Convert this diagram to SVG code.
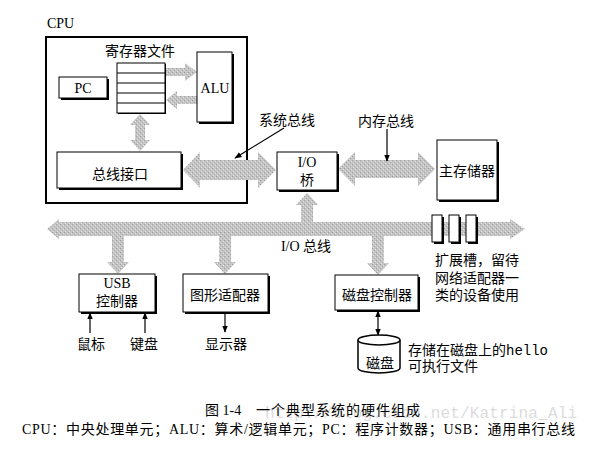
<svg xmlns="http://www.w3.org/2000/svg" width="612" height="460" viewBox="0 0 612 460">
<style>
 .t{font-family:"Liberation Serif","Noto Sans CJK SC",serif;font-size:14px;fill:#000}
 .c{text-anchor:middle}
 .box{fill:#fff;stroke:#000;stroke-width:1}
 .sh{fill:#000}
 .bus{fill:url(#dots)}
 .ln{stroke:#000;stroke-width:1.2;fill:none}
 .mono{font-family:"Liberation Mono","DejaVu Sans Mono",monospace}
</style>
<defs>
 <pattern id="dots" width="4" height="4" patternUnits="userSpaceOnUse">
  <rect width="4" height="4" fill="#c4c4c4"/>
  <rect x="0" y="0" width="1" height="1" fill="#9c9c9c"/>
  <rect x="2" y="2" width="1" height="1" fill="#aaaaaa"/>
  <rect x="3" y="1" width="1" height="1" fill="#e2e2e2"/>
  <rect x="1" y="3" width="1" height="1" fill="#dddddd"/>
 </pattern>
 <marker id="ah" viewBox="0 0 10 10" refX="9" refY="5" markerWidth="6" markerHeight="6" orient="auto-start-reverse"><path d="M0,1 L10,5 L0,9 Z" fill="#000"/></marker>
</defs>
<rect width="612" height="460" fill="#fff"/>

<g id="cpu">
 <text class="t" x="47" y="28">CPU</text>
 <rect x="46" y="37" width="201" height="166" fill="none" stroke="#000" stroke-width="2"/>
</g>

<g id="connectors">
 <!-- system bus -->
 <path class="bus" d="M183,170 L200,152 L200,160 L258,160 L258,152 L276,170 L258,188 L258,180 L200,180 L200,188 Z"/>
 <!-- memory bus -->
 <path class="bus" d="M338,169 L355,152 L355,160 L418,160 L418,152 L435,169 L418,186 L418,178 L355,178 L355,186 Z"/>
 <!-- register file <-> ALU -->
 <path class="bus" d="M165,68 L185,68 L185,63 L197,72 L185,81 L185,76 L165,76 Z"/>
 <path class="bus" d="M197,96 L177,96 L177,91 L166,100 L177,109 L177,104 L197,104 Z"/>
 <!-- register file <-> bus interface -->
 <path class="bus" d="M140,114 L150,125 L145,125 L145,140 L150,140 L140,151 L130,140 L135,140 L135,125 L130,125 Z"/>
 <!-- I/O bus -->
 <path class="bus" d="M47,229 L59,219 L59,222 L510,222 L510,219 L525,229 L510,239 L510,236 L59,236 L59,239 Z"/>
 <!-- bus to bridge -->
 <path class="bus" d="M307,193 L318,205 L313,205 L313,223 L301,223 L301,205 L296,205 Z"/>
 <!-- bus to USB, graphics, disk controller -->
 <path class="bus" d="M112,235 L124,235 L124,262 L129,262 L118,274 L107,262 L112,262 Z"/>
 <path class="bus" d="M219,235 L231,235 L231,262 L236,262 L225,274 L214,262 L219,262 Z"/>
 <path class="bus" d="M372,235 L384,235 L384,263 L389,263 L378,275 L367,263 L372,263 Z"/>
 <!-- thin arrows -->
 <line class="ln" x1="284" y1="128" x2="235" y2="158" marker-end="url(#ah)"/>
 <line class="ln" x1="387" y1="129" x2="387" y2="161" marker-end="url(#ah)"/>
 <line class="ln" x1="90" y1="333" x2="90" y2="313" marker-end="url(#ah)"/>
 <line class="ln" x1="145" y1="333" x2="145" y2="313" marker-end="url(#ah)"/>
 <line class="ln" x1="225" y1="312" x2="225" y2="332" marker-end="url(#ah)"/>
 <line class="ln" x1="378" y1="311" x2="378" y2="335" marker-start="url(#ah)" marker-end="url(#ah)"/>
</g>

<g id="regfile">
 <text class="t c" x="140" y="56">寄存器文件</text>
 <rect x="118" y="64" width="48" height="50" class="sh"/>
 <rect x="117" y="63" width="48" height="50" class="box"/>
 <path d="M117,73 H165 M117,83 H165 M117,93 H165 M117,103 H165" stroke="#000" stroke-width="1"/>
</g>
<g id="pc">
 <rect x="61" y="79" width="48" height="21" class="sh"/>
 <rect x="59" y="77" width="48" height="21" class="box"/>
 <text class="t c" x="83" y="93">PC</text>
</g>
<g id="alu">
 <rect x="199" y="54" width="35" height="70" class="sh"/>
 <rect x="197" y="52" width="35" height="70" class="box"/>
 <text class="t c" x="215" y="93">ALU</text>
</g>
<g id="businterface">
 <rect x="59" y="154" width="124" height="36" class="sh"/>
 <rect x="57" y="152" width="124" height="36" class="box"/>
 <text class="t c" x="120" y="179">总线接口</text>
</g>
<g id="sysbus-label">
 <text class="t c" x="287" y="125">系统总线</text>
</g>
<g id="membus-label">
 <text class="t c" x="386" y="126">内存总线</text>
</g>
<g id="iobridge">
 <rect x="279" y="154" width="60" height="38" class="sh"/>
 <rect x="277" y="152" width="60" height="38" class="box"/>
 <text class="t c" x="307" y="167">I/O</text>
 <text class="t c" x="307" y="185">桥</text>
</g>
<g id="mainmemory">
 <rect x="439" y="142" width="60" height="60" class="sh"/>
 <rect x="437" y="140" width="60" height="60" class="box"/>
 <text class="t c" x="467" y="176">主存储器</text>
</g>
<g id="iobus-label">
 <text class="t c" x="306" y="251">I/O 总线</text>
</g>
<g id="slots">
 <rect x="434" y="217" width="10" height="27" class="sh"/>
 <rect x="432" y="215" width="10" height="27" class="box"/>
 <rect x="451" y="217" width="10" height="27" class="sh"/>
 <rect x="449" y="215" width="10" height="27" class="box"/>
 <rect x="468" y="217" width="10" height="27" class="sh"/>
 <rect x="466" y="215" width="10" height="27" class="box"/>
 <text class="t" x="435" y="265">扩展槽，留待</text>
 <text class="t" x="435" y="283">网络适配器一</text>
 <text class="t" x="435" y="300">类的设备使用</text>
</g>
<g id="usb">
 <rect x="81" y="276" width="76" height="38" class="sh"/>
 <rect x="79" y="274" width="76" height="38" class="box"/>
 <text class="t c" x="117" y="288">USB</text>
 <text class="t c" x="117" y="306">控制器</text>
</g>
<g id="mouse"><text class="t c" x="91" y="349">鼠标</text></g>
<g id="keyboard"><text class="t c" x="144" y="349">键盘</text></g>
<g id="graphics">
 <rect x="185" y="276" width="85" height="38" class="sh"/>
 <rect x="183" y="274" width="85" height="38" class="box"/>
 <text class="t c" x="225" y="300">图形适配器</text>
</g>
<g id="display"><text class="t c" x="226" y="349">显示器</text></g>
<g id="diskcontroller">
 <rect x="337" y="277" width="83" height="35" class="sh"/>
 <rect x="335" y="275" width="83" height="35" class="box"/>
 <text class="t c" x="377" y="300">磁盘控制器</text>
</g>
<g id="disk">
 <path d="M358,340 V368 A21,5 0 0 0 400,368 V340" fill="#fff" stroke="#000" stroke-width="1.5"/>
 <ellipse cx="379" cy="340" rx="21" ry="5" fill="#fff" stroke="#000" stroke-width="1.5"/>
 <text class="t c" x="380" y="368">磁盘</text>
 <text class="t" x="408" y="355">存储在磁盘上的<tspan class="mono">hello</tspan></text>
 <text class="t" x="408" y="371">可执行文件</text>
</g>

<g id="caption">
 <text x="265" y="418" font-family="Liberation Mono, monospace" font-size="16" fill="#dcdcdc" textLength="312">http://blog.csdn.net/Katrina_Ali</text>
 <text class="t" x="205" y="415">图 1-4</text>
 <text class="t" x="256" y="415" textLength="164">一个典型系统的硬件组成</text>
 <text class="t" x="22" y="434" font-size="12" textLength="553" lengthAdjust="spacing">CPU：中央处理单元；ALU：算术/逻辑单元；PC：程序计数器；USB：通用串行总线</text>
</g>
</svg>
